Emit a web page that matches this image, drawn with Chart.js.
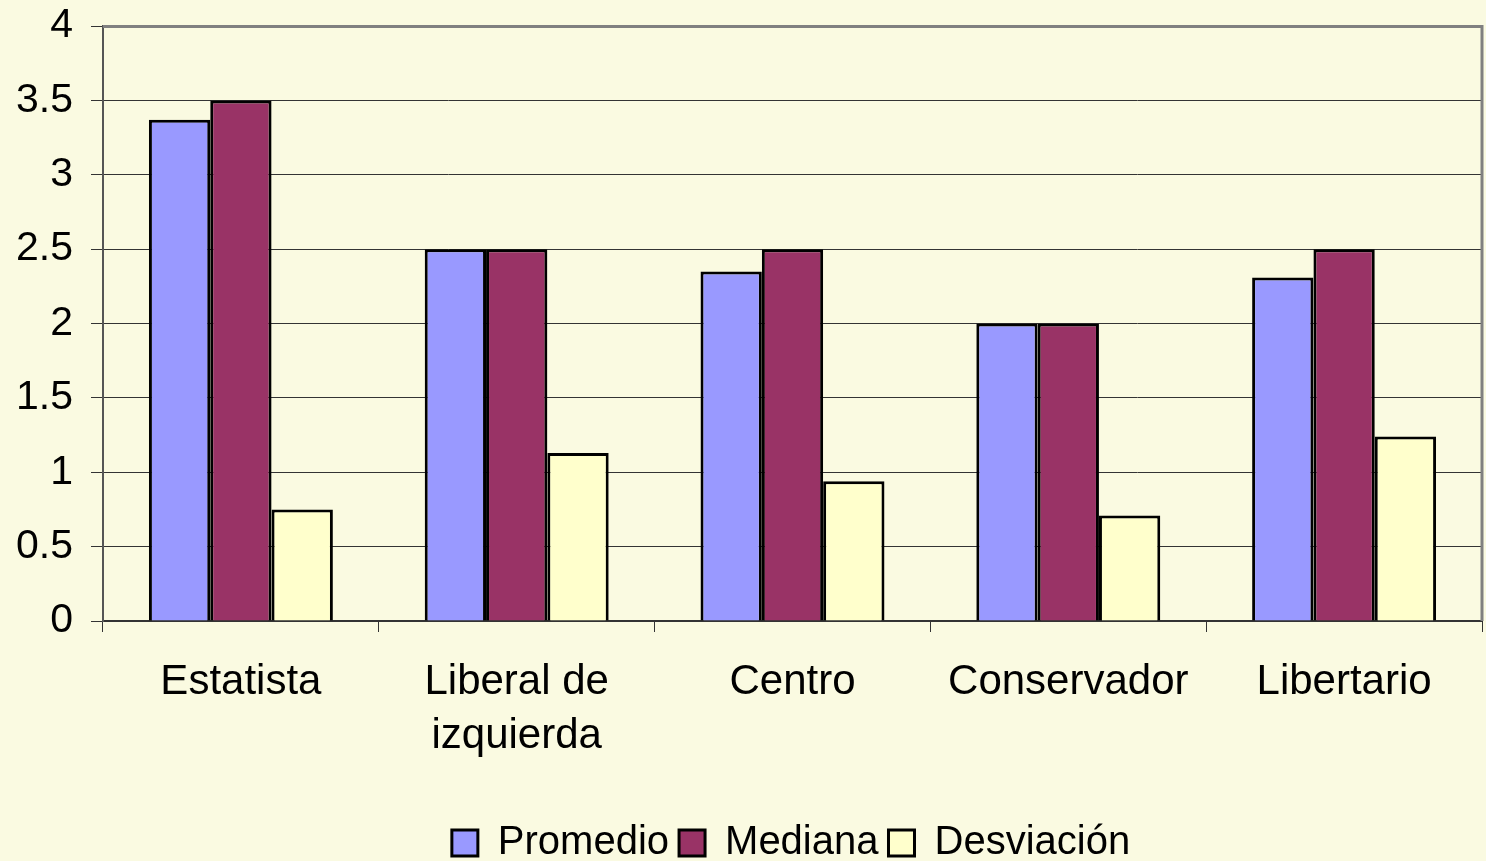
<!DOCTYPE html>
<html>
<head>
<meta charset="utf-8">
<script src="https://cdn.jsdelivr.net/npm/chart.js@4"></script>
<style>
html,body{margin:0;padding:0;background:#FAFAE1;}
#wrap{width:1486px;height:861px;position:relative;}
</style>
</head>
<body>
<div id="wrap"><canvas id="c" width="1486" height="861"></canvas></div>
<script>
const categories = ['Estatista', ['Liberal de', 'izquierda'], 'Centro', 'Conservador', 'Libertario'];
const promedio = [3.37, 2.5, 2.35, 2.0, 2.31];
const mediana = [3.5, 2.5, 2.5, 2.0, 2.5];
const desviacion = [0.75, 1.13, 0.94, 0.71, 1.24];
const seriesNames = ['Promedio', 'Mediana', 'Desviación'];
const yTicks = [0, 0.5, 1, 1.5, 2, 2.5, 3, 3.5, 4];

const frame = {
  id: 'frame',
  afterLayout(chart) {
    if (chart.legend) { chart.legend.left += 50; chart.legend.right += 50; }
  },
  beforeDraw(chart) {
    const ctx = chart.ctx;
    ctx.save();
    ctx.fillStyle = '#FAFAE1';
    ctx.fillRect(0, 0, chart.width, chart.height);
    ctx.restore();
  },
  afterDatasetsDraw(chart) {
    const a = chart.chartArea, ctx = chart.ctx;
    ctx.save();
    ctx.strokeStyle = '#808080';
    ctx.lineWidth = 3;
    ctx.beginPath();
    ctx.moveTo(a.left, a.top + 0.5);
    ctx.lineTo(a.right, a.top + 0.5);
    ctx.lineTo(a.right, a.bottom);
    ctx.stroke();
    ctx.restore();
  }
};

const fam = 'Liberation Sans, Arial, sans-serif';

new Chart(document.getElementById('c'), {
  type: 'bar',
  data: {
    labels: categories,
    datasets: [
      {label: seriesNames[0], data: promedio, backgroundColor: '#9999FF', borderColor: '#000', borderWidth: 3, borderSkipped: 'bottom'},
      {label: seriesNames[1], data: mediana, backgroundColor: '#993366', borderColor: '#000', borderWidth: 3, borderSkipped: 'bottom'},
      {label: seriesNames[2], data: desviacion, backgroundColor: '#FFFFCC', borderColor: '#000', borderWidth: 3, borderSkipped: 'bottom'}
    ]
  },
  options: {
    responsive: false,
    animation: false,
    layout: {padding: {top: 0, right: 4, left: 0, bottom: -12}},
    datasets: {bar: {categoryPercentage: 0.667, barPercentage: 1.0}},
    plugins: {
      legend: {
        position: 'bottom',
        labels: {
          font: {family: fam, size: 40},
          color: '#000',
          boxWidth: 26,
          boxHeight: 26,
          padding: 10,
          generateLabels(chart) {
            return chart.data.datasets.map((d, i) => ({
              text: d.label, fillStyle: d.backgroundColor, strokeStyle: '#000', lineWidth: 3,
              datasetIndex: i, fontColor: '#000'
            }));
          }
        }
      },
      tooltip: {enabled: false}
    },
    scales: {
      x: {
        grid: {display: true, drawOnChartArea: false, drawTicks: true, tickLength: 11, color: '#333', offset: true},
        border: {display: true, color: '#333', width: 2},
        ticks: {font: {family: fam, size: 42, lineHeight: 1.3}, color: '#000', padding: 23, maxRotation: 0, autoSkip: false},
        afterFit(scale) { scale.height = 192; }
      },
      y: {
        min: 0, max: 4,
        ticks: {stepSize: 0.5, font: {family: fam, size: 41}, color: '#000', padding: 18,
          callback: (v) => String(yTicks.find(t => Math.abs(t - v) < 1e-9) ?? v)},
        grid: {color: '#333', lineWidth: 1, tickLength: 12, drawTicks: true},
        border: {display: true, color: '#555', width: 2},
        afterFit(scale) { scale.width = 103; scale.paddingTop = 26; scale.paddingBottom = 0; }
      }
    }
  },
  plugins: [frame]
});
</script>
</body>
</html>
